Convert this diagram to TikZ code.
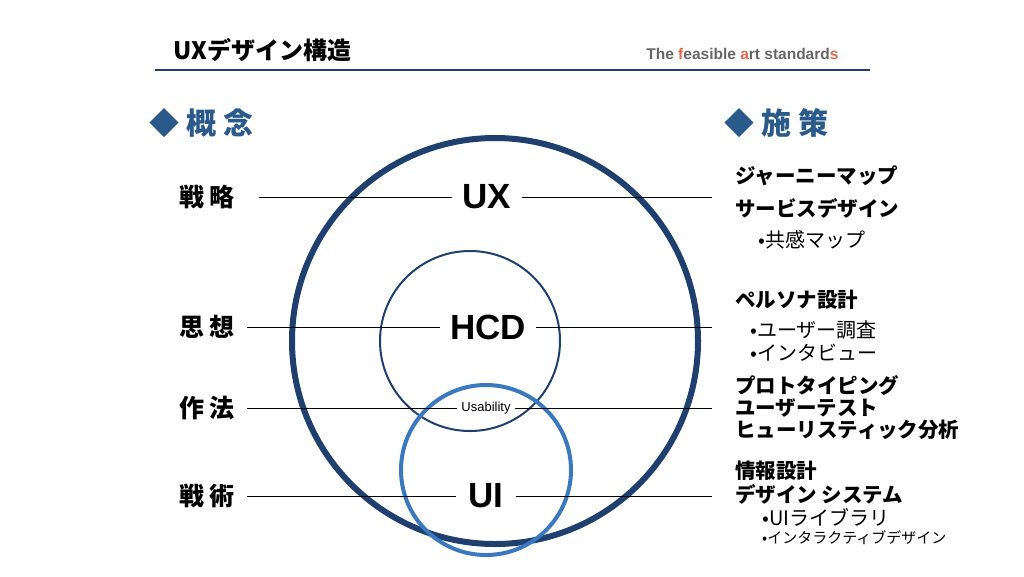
\documentclass[tikz,border=0pt]{standalone}
\usepackage{fontspec}
\setmainfont{Noto Sans CJK JP}
\newfontfamily\latinfont{Liberation Sans}
\usetikzlibrary{positioning}
\definecolor{navy}{HTML}{1F3F6E}
\definecolor{headblue}{HTML}{2A5A8C}
\definecolor{uiblue}{HTML}{3A78C0}
\definecolor{accent}{HTML}{E0674A}
\tikzset{
  concept/.style = {font=\fontsize{25}{27}\selectfont\bfseries, inner sep=0pt},
  core/.style = {font=\latinfont\fontsize{35}{37}\selectfont\bfseries, inner sep=0pt},
  measure/.style = {anchor=west, font=\fontsize{20.5}{22}\selectfont\bfseries, inner sep=0pt},
  sub/.style = {anchor=west, font=\fontsize{20}{22}\selectfont, inner sep=0pt},
  link/.style = {line width=0.9pt, black}
}
\begin{document}
\begin{tikzpicture}[x=1pt, y=-1pt]
	\useasboundingbox (0,0) rectangle (1024,576);

		% header
		\node[anchor=west, font=\fontsize{24}{26}\selectfont\bfseries] (title) at (170, 50) {UXデザイン構造};
		\node[anchor=east, font=\latinfont\fontsize{15.5}{17}\selectfont\bfseries, text=gray!80!black] (brand) at (842, 54)
			{The \textcolor{accent}{f}easible \textcolor{accent}{a}rt standard\textcolor{accent}{s}};
		\draw[navy, line width=2.5pt] (155, 70) -- (870, 70);

		\node[anchor=west, headblue, font=\fontsize{30}{32}\selectfont\bfseries] (gainen) at (146, 123) {◆ 概 念};
		\node[anchor=west, headblue, font=\fontsize{30}{32}\selectfont\bfseries] (shisaku) at (721, 123) {◆ 施 策};

		% circles
		\draw[navy, line width=6pt] (495, 341) circle [radius = 203];
		\draw[navy, line width=2pt] (470, 341) circle [radius = 90];
		\draw[uiblue, line width=4pt] (486, 470) circle [radius = 85];

		\node[core] (ux) at (487, 197) {UX};
		\node[core] (hcd) at (488, 327) {HCD};
		\node[font=\latinfont\fontsize{13}{15}\selectfont, inner sep=0pt] (usa) at (486, 408) {Usability};
		\node[core] (ui) at (486, 496) {UI};

		% concepts
		\node[concept] (senryaku) at (207, 197) {戦 略};
		\node[concept] (shisou) at (207, 327) {思 想};
		\node[concept] (sahou) at (207, 408) {作 法};
		\node[concept] (senjutsu) at (207, 496) {戦 術};

		\coordinate (r1) at (712, 197);
		\coordinate (r2) at (712, 327);
		\coordinate (r3) at (712, 408);
		\coordinate (r4) at (712, 496);

		\draw[link] (senryaku.east) ++(24,0) -- ([xshift=-10pt]ux.west);
		\draw[link] ([xshift=10pt]ux.east) -- (r1);
		\draw[link] (shisou.east) ++(12,0) -- ([xshift=-10pt]hcd.west);
		\draw[link] ([xshift=10pt]hcd.east) -- (r2);
		\draw[link] (sahou.east) ++(12,0) -- ([xshift=-4pt]usa.west);
		\draw[link] ([xshift=4pt]usa.east) -- (r3);
		\draw[link] (senjutsu.east) ++(12,0) -- ([xshift=-12pt]ui.west);
		\draw[link] ([xshift=12pt]ui.east) -- (r4);

		% measures
		\node[measure] (m1) at (735, 176) {ジャーニーマップ};
		\node[measure] (m2) at (735, 208) {サービスデザイン};
		\node[sub] (m3) at (758, 240) {•共感マップ};
		\node[measure] (m4) at (735, 300) {ペルソナ設計};
		\node[sub] (m5) at (750, 330) {•ユーザー調査};
		\node[sub] (m6) at (750, 353) {•インタビュー};
		\node[measure] (m7) at (735, 386) {プロトタイピング};
		\node[measure] (m8) at (735, 408) {ユーザーテスト};
		\node[measure] (m9) at (735, 430) {ヒューリスティック分析};
		\node[measure] (m10) at (735, 471) {情報設計};
		\node[measure] (m11) at (735, 494) {デザイン システム};
		\node[sub] (m12) at (762, 517) {•UIライブラリ};
		\node[sub, font=\fontsize{15}{17}\selectfont] (m13) at (762, 538) {•インタラクティブデザイン};
	\end{tikzpicture}
\end{document}
